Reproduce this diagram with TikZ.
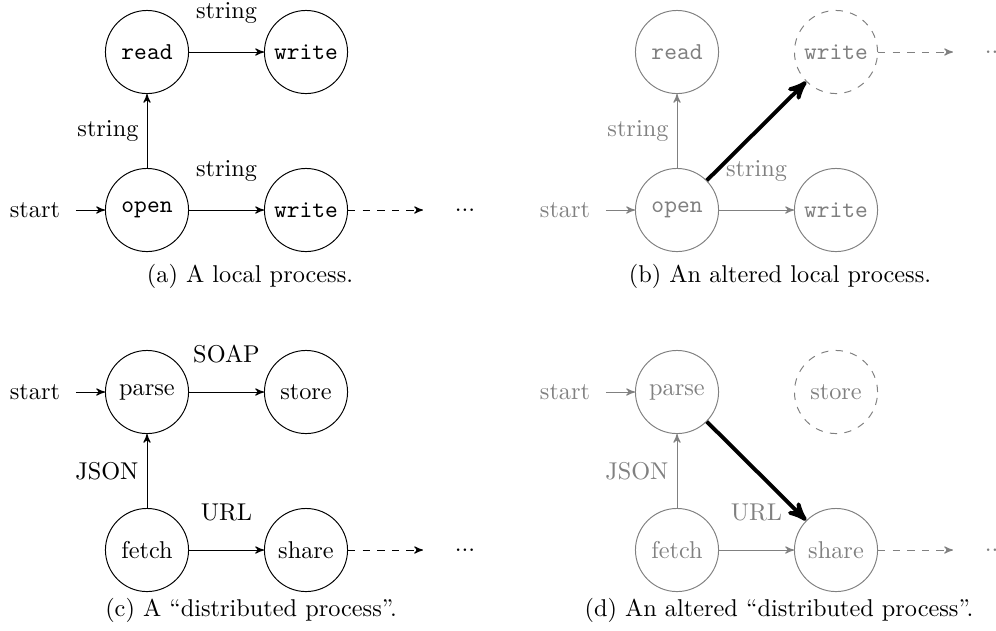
\documentclass[tikz,border=0pt]{standalone}
\usepackage{fontspec}
\usetikzlibrary{arrows}
\begin{document}
\begin{tikzpicture}[x=0.4115pt,y=-0.4115pt,>=stealth',
  st/.style={circle,draw,minimum size=34.2pt,inner sep=1pt},
  ghost/.style={circle,minimum size=34.2pt,inner sep=1pt},
  faded/.style={draw=gray,text=gray},
  gone/.style={circle,draw=gray,dashed,text=gray,minimum size=34.2pt,inner sep=1pt},
  hlab/.style={midway,above=8.4pt},
  vlab/.style={midway,left},
  startarrow/.style={->,shorten <=3pt},
  thickarrow/.style={->,ultra thick,black},
  capt/.style={anchor=base}]
\useasboundingbox (0,0) rectangle (996,630);

% (a)
\node[st] (aread) at (147,52) {\texttt{read}};
\node[st] (awritet) at (306,52) {\texttt{write}};
\node[st] (aopen) at (147,210) {\texttt{open}};
\node[st] (awriteb) at (306,210) {\texttt{write}};
\node[ghost] (adots) at (465,210) {...};
\node (astart) at (35,210) {start};
\draw[startarrow] (astart) -- (aopen);
\draw[->] (aopen) -- node[vlab] (alab1) {string} (aread);
\draw[->] (aread) -- node[hlab] (alab2) {string} (awritet);
\draw[->] (aopen) -- node[hlab] (alab3) {string} (awriteb);
\draw[->,dashed] (awriteb) -- (adots);
\node[capt] (acap) at (250,282) {(a) A local process.};

% (b)
\begin{scope}[shift={(530,0)}]
\node[st,faded] (bread) at (147,52) {\texttt{read}};
\node[gone] (bwritet) at (306,52) {\texttt{write}};
\node[st,faded] (bopen) at (147,210) {\texttt{open}};
\node[st,faded] (bwriteb) at (306,210) {\texttt{write}};
\node[ghost,text=gray] (bdots) at (465,52) {...};
\node[text=gray] (bstart) at (35,210) {start};
\draw[startarrow,gray] (bstart) -- (bopen);
\draw[->,gray] (bopen) -- node[vlab,text=gray] (blab1) {string} (bread);
\draw[->,gray] (bopen) -- node[hlab,text=gray] (blab3) {string} (bwriteb);
\draw[->,dashed,gray] (bwritet) -- (bdots);
\draw[thickarrow] (bopen) -- (bwritet);
\node[capt] (bcap) at (250,282) {(b) An altered local process.};
\end{scope}

% (c)
\node[st] (cparse) at (147,392) {parse};
\node[st] (cstore) at (306,392) {store};
\node[st] (cfetch) at (147,550) {fetch};
\node[st] (cshare) at (306,550) {share};
\node[ghost] (cdots) at (465,550) {...};
\node (cstart) at (35,392) {start};
\draw[startarrow] (cstart) -- (cparse);
\draw[->] (cfetch) -- node[vlab] (clab1) {JSON} (cparse);
\draw[->] (cparse) -- node[hlab] (clab2) {SOAP} (cstore);
\draw[->] (cfetch) -- node[hlab] (clab3) {URL} (cshare);
\draw[->,dashed] (cshare) -- (cdots);
\node[capt] (ccap) at (251,616) {(c) A ``distributed process''.};

% (d)
\begin{scope}[shift={(530,0)}]
\node[st,faded] (dparse) at (147,392) {parse};
\node[gone] (dstore) at (306,392) {store};
\node[st,faded] (dfetch) at (147,550) {fetch};
\node[st,faded] (dshare) at (306,550) {share};
\node[ghost,text=gray] (ddots) at (465,550) {...};
\node[text=gray] (dstart) at (35,392) {start};
\draw[startarrow,gray] (dstart) -- (dparse);
\draw[->,gray] (dfetch) -- node[vlab,text=gray] (dlab1) {JSON} (dparse);
\draw[->,gray] (dfetch) -- node[hlab,text=gray] (dlab3) {URL} (dshare);
\draw[->,dashed,gray] (dshare) -- (ddots);
\draw[thickarrow] (dparse) -- (dshare);
\node[capt] (dcap) at (249,616) {(d) An altered ``distributed process''.};
\end{scope}
\end{tikzpicture}
\end{document}
